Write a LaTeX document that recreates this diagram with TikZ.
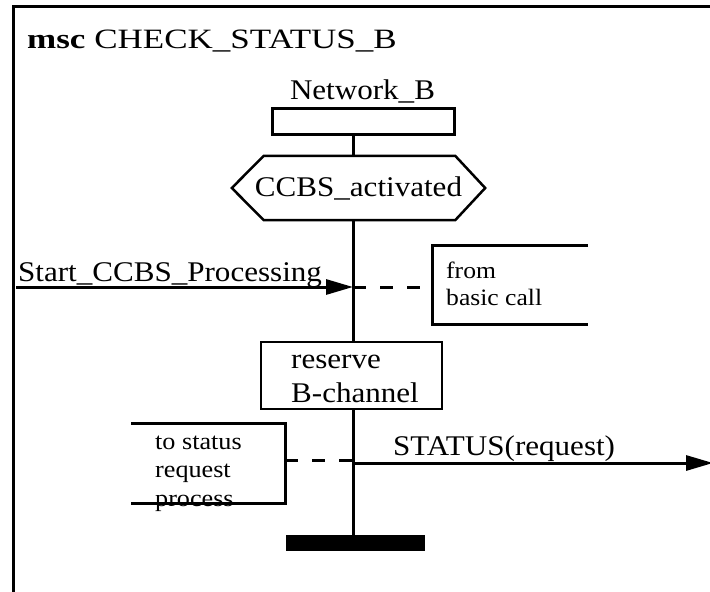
\documentclass[tikz,border=0pt]{standalone}
\usepackage{fontspec}
\setmainfont{Liberation Serif}
\newfontfamily\msctxt{Liberation Serif}[FakeStretch=1.09]
\newfontfamily\msctitlefont{Liberation Serif}[FakeStretch=1.25]
\usetikzlibrary{arrows.meta,calc}
\begin{document}
\begin{tikzpicture}[x=1pt,y=-1pt,
  frameline/.style={line width=3pt},
  boxline/.style={line width=3pt},
  hexline/.style={line width=2.5pt, line join=miter},
  lifeline/.style={line width=3pt},
  msg/.style={line width=3pt, -{Triangle[length=27pt,width=15pt]}},
  dashline/.style={line width=3pt, dash pattern=on 13pt off 14pt},
  titlef/.style={font=\msctitlefont\fontsize{28}{32}\selectfont, inner sep=0pt},
  lbl/.style={font=\msctxt\fontsize{28.5}{34}\selectfont, inner sep=0pt},
  smalllbl/.style={font=\msctxt\fontsize{23.5}{27}\selectfont, inner sep=0pt},
  tslbl/.style={font=\msctxt\fontsize{24}{28.5}\selectfont, inner sep=0pt}]
\useasboundingbox (0,0) rectangle (710,592);
\clip (0,0) rectangle (710,592);
% frame
\coordinate (fbl) at (13,620);
\coordinate (ftl) at (13,6.5);
\coordinate (ftr) at (740,6.5);
\draw[frameline] (fbl) -- (ftl) -- (ftr);
\node[titlef, anchor=base west] (title) at (27,48) {\textbf{msc} CHECK\_STATUS\_B};
% lifeline x
\coordinate (L) at (353,0);
% instance head
\node[draw, boxline, minimum width=182, minimum height=26, inner sep=0pt] (head) at (363.5,121) {};
\node[lbl, anchor=base] (inst) at (362.5,99) {Network\_B};
% condition
\node[lbl, minimum width=253, minimum height=64] (cond) at (358.5,188) {CCBS\_activated};
\draw[hexline] (cond.west) -- ($(cond.north west)+(32,0)$) -- ($(cond.north east)+(-30,0)$)
  -- (cond.east) -- ($(cond.south east)+(-30,0)$) -- ($(cond.south west)+(32,0)$) -- cycle;
% action
\node[draw, boxline, line width=2.5pt, minimum width=181, minimum height=67, inner sep=0pt] (reserve) at (351.5,375.5) {};
\node[lbl, anchor=base west] (restxt) at (291,368) {\begin{tabular}[t]{@{}l@{}}reserve\\B-channel\end{tabular}};
% stop bar
\node[fill=black, minimum width=139, minimum height=16, inner sep=0pt] (bar) at (355.5,543) {};
% lifeline segments
\draw[lifeline] (head.south -| L) -- (cond.north -| L);
\draw[lifeline] (cond.south -| L) -- (reserve.north -| L);
\draw[lifeline] (reserve.south -| L) -- (bar.north -| L);
% incoming message
\coordinate (inL) at (16,287);
\node[lbl, anchor=base west] (startlbl) at (18,281) {Start\_CCBS\_Processing};
\draw[msg] (inL) -- (inL -| L);
% from comment
\coordinate (fb1) at (588,245);
\coordinate (fb2) at (432,245);
\coordinate (fb3) at (432,324);
\coordinate (fb4) at (588,324);
\draw[boxline] (fb1) -- (fb2) -- (fb3) -- (fb4);
\node[smalllbl, anchor=base west] (fromtxt) at (446,278) {\begin{tabular}[t]{@{}l@{}}from\\basic call\end{tabular}};
\draw[dashline] (inL -| L) -- (inL -| fb2);
% to status comment
\coordinate (tb1) at (131,423);
\coordinate (tb2) at (285,423);
\coordinate (tb3) at (285,503);
\coordinate (tb4) at (131,503);
\node[tslbl, anchor=base west] (totxt) at (155,449) {\begin{tabular}[t]{@{}l@{}}to status\\request\\process\end{tabular}};
\draw[boxline] (tb1) -- (tb2) -- (tb3) -- (tb4);
\coordinate (tsy) at (0,460);
\draw[dashline] (tsy -| tb2) -- (tsy -| L);
% outgoing message
\coordinate (outy) at (0,463);
\coordinate (outR) at (713,463);
\node[lbl, anchor=base west] (statuslbl) at (393,455) {STATUS(request)};
\draw[msg] (outy -| L) -- (outR);
\end{tikzpicture}
\end{document}
